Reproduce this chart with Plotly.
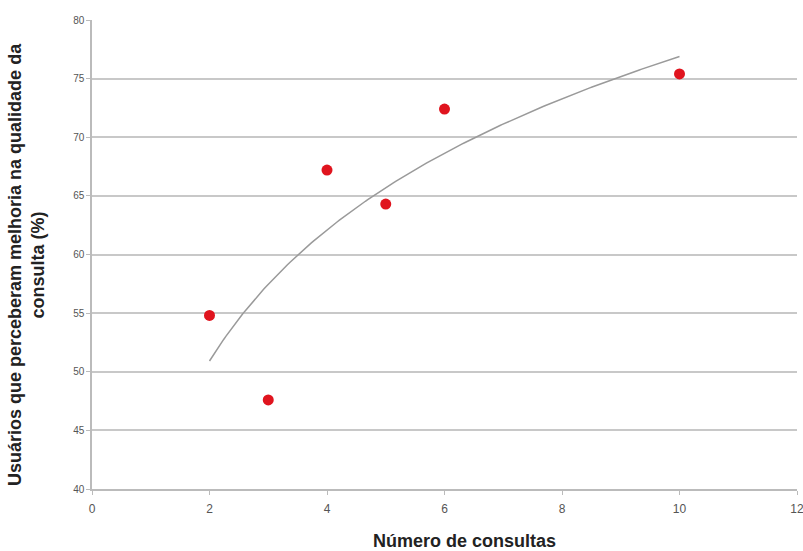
import numpy as np
import plotly.graph_objects as go

consultas = [2, 3, 4, 5, 6, 10]
percentuais = [54.8, 47.6, 67.2, 64.3, 72.4, 75.4]
x_ticks = [0, 2, 4, 6, 8, 10, 12]
y_ticks = [40, 45, 50, 55, 60, 65, 70, 75, 80]

# Logarithmic trend line (least squares fit, as in spreadsheet trendline)
lx = np.log(np.array(consultas, dtype=float))
b, a = np.polyfit(lx, np.array(percentuais), 1)
xt = np.linspace(min(consultas), max(consultas), 200)
yt = a + b * np.log(xt)

fig = go.Figure()
fig.add_trace(go.Scatter(x=xt, y=yt, mode="lines",
                         line=dict(color="#9a9a9a", width=1.5),
                         hoverinfo="skip", showlegend=False))
fig.add_trace(go.Scatter(x=consultas, y=percentuais, mode="markers",
                         marker=dict(color="#e0141e", size=11),
                         showlegend=False))

xtick_font = dict(family="Liberation Sans, Arial, sans-serif", size=12, color="#555")
ytick_font = dict(family="Liberation Sans, Arial, sans-serif", size=10, color="#555")
title_font = dict(family="Liberation Sans, Arial, sans-serif", size=18, color="#222")

fig.update_layout(
    width=803, height=551,
    margin=dict(l=92, r=6, t=20, b=62, autoexpand=False),
    paper_bgcolor="white", plot_bgcolor="white",
    xaxis=dict(range=[0, 12], tickvals=x_ticks, showgrid=False,
               showline=True, linecolor="#bbbbbb", linewidth=1.5,
               ticks="outside", ticklen=4, tickcolor="#bbbbbb",
               tickfont=xtick_font, zeroline=False, ticklabelstandoff=4,
               ticklabeloverflow="allow", automargin=False),
    yaxis=dict(range=[40, 80], tickvals=y_ticks, showgrid=True,
               gridcolor="#c8c8c8", gridwidth=1.5,
               showline=True, linecolor="#bbbbbb", linewidth=1.5,
               ticks="outside", ticklen=4, tickcolor="#bbbbbb",
               tickfont=ytick_font, zeroline=False, automargin=False),
    annotations=[
        dict(text="<b>Número de consultas</b>", font=title_font,
             xref="paper", yref="paper", x=0.5, y=0, xanchor="center", yanchor="middle",
             xshift=20, yshift=-52, showarrow=False),
        dict(text="<b>Usuários que perceberam melhoria na qualidade da<br>consulta (%)</b>",
             font=title_font, textangle=-90,
             xref="paper", yref="paper", x=0, y=0.4776, xanchor="center", yanchor="middle",
             xshift=-66, showarrow=False),
    ],
)

fig.write_html("out.html", post_script="document.body.style.margin='0';",
               config={"displayModeBar": False})
